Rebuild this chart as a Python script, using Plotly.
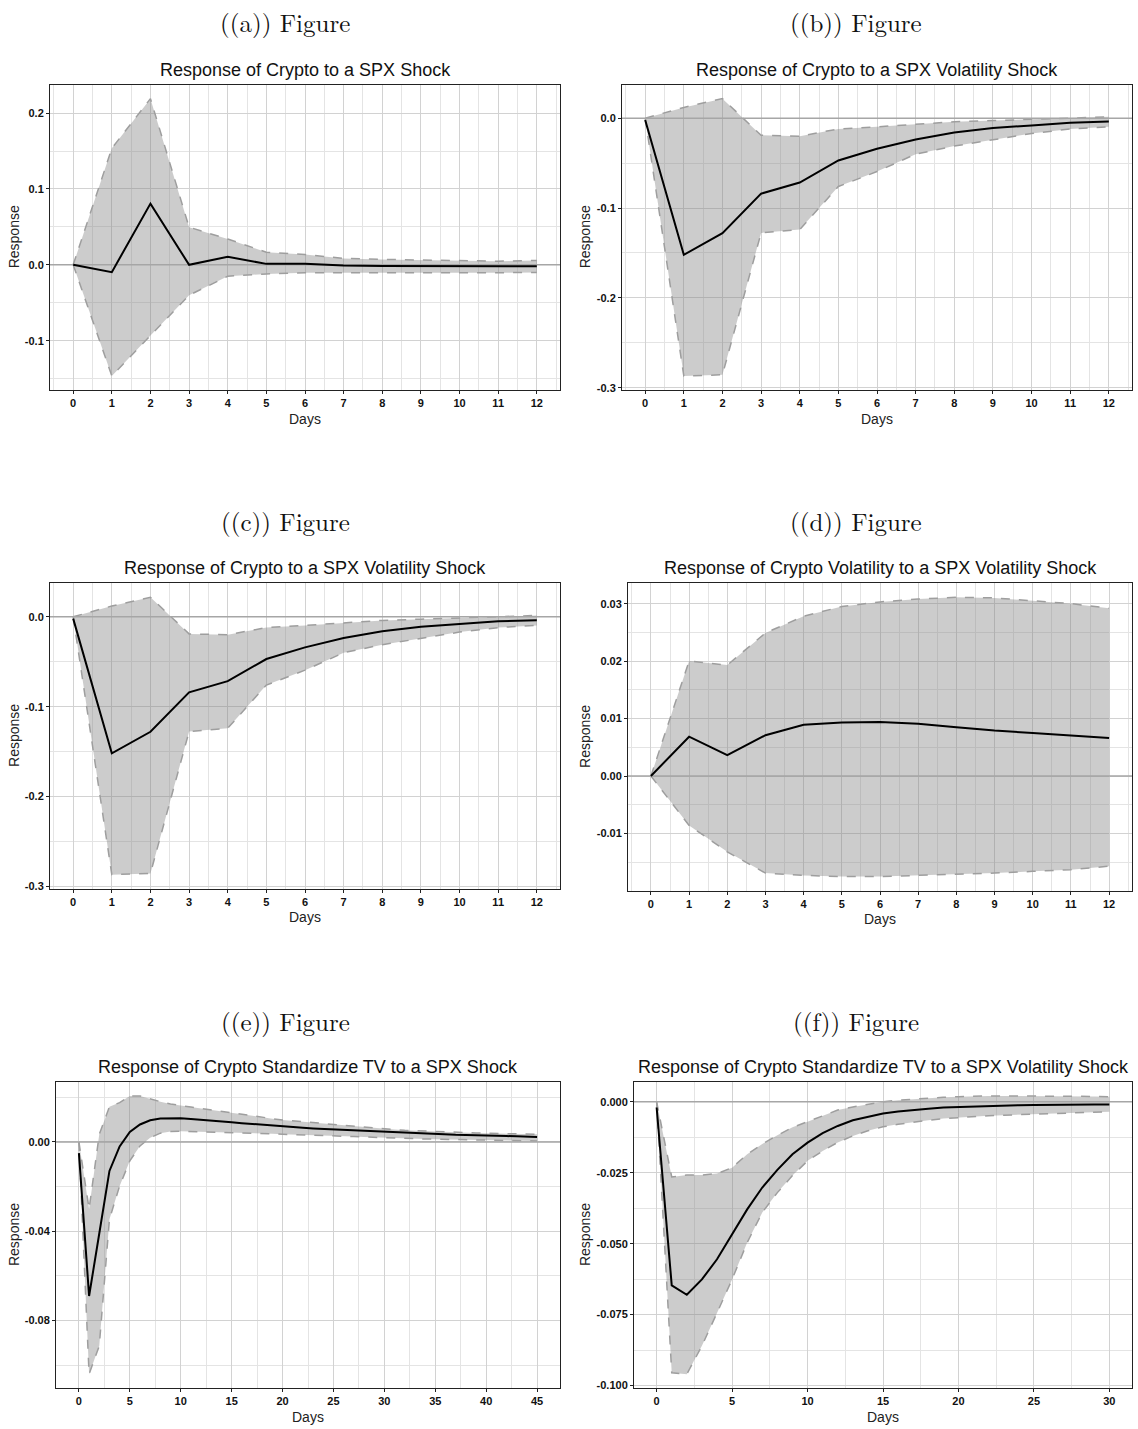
import plotly.graph_objects as go

# ---------------- impulse-response data ----------------
days_12 = list(range(13))
days_45 = list(range(46))
days_30 = list(range(31))

# (a) Crypto <- SPX shock
a_irf = [0.0, -0.0096, 0.0807, 0.0, 0.0105, 0.0013, 0.0013, -0.0008, -0.0015, -0.0018, -0.0019, -0.0019, -0.0020]
a_upper = [0.0, 0.1535, 0.219, 0.0496, 0.034, 0.0167, 0.0136, 0.0085, 0.0072, 0.0066, 0.0062, 0.0048, 0.0058]
a_lower = [0.0, -0.1465, -0.093, -0.040, -0.015, -0.012, -0.0105, -0.0102, -0.0102, -0.0102, -0.0103, -0.0104, -0.0100]

# (b) and (c) Crypto <- SPX volatility shock
b_irf = [-0.002, -0.152, -0.128, -0.084, -0.0716, -0.047, -0.034, -0.0236, -0.016, -0.011, -0.008, -0.005, -0.0037]
b_upper = [0.0, 0.012, 0.0218, -0.019, -0.020, -0.012, -0.0096, -0.0066, -0.004, -0.0026, -0.001, 0.0, 0.0015]
b_lower = [0.0, -0.287, -0.2856, -0.1277, -0.124, -0.076, -0.0594, -0.040, -0.031, -0.0236, -0.017, -0.012, -0.0096]

# (d) Crypto volatility <- SPX volatility shock
d_irf = [0.0, 0.00684, 0.00365, 0.0071, 0.0089, 0.00933, 0.0094, 0.0091, 0.0085, 0.0079, 0.0075, 0.0070, 0.0066]
d_upper = [0.0, 0.0200, 0.0193, 0.0249, 0.0278, 0.0295, 0.0303, 0.0308, 0.0311, 0.0310, 0.0305, 0.0300, 0.0292]
d_lower = [0.0, -0.0086, -0.0132, -0.0169, -0.0173, -0.0175, -0.0175, -0.0173, -0.0172, -0.0169, -0.0166, -0.0163, -0.0157]

# (e) Crypto standardized TV <- SPX shock
e_irf = [-0.005, -0.069, -0.041, -0.013, -0.002, 0.0045, 0.0078, 0.0097, 0.0105, 0.0107,
         0.0106, 0.0103, 0.0100, 0.0096, 0.0092, 0.0088, 0.0084, 0.0080, 0.0076, 0.0072,
         0.0068, 0.0066, 0.0063, 0.0060, 0.0058, 0.0055, 0.0053, 0.0050, 0.0048, 0.0046,
         0.0043, 0.0042, 0.0040, 0.0038, 0.0036, 0.0035, 0.0034, 0.0032, 0.0031, 0.0029,
         0.0028, 0.0027, 0.0026, 0.0025, 0.0023, 0.0022]
e_upper = [0.0, -0.030, 0.0034, 0.0157, 0.0176, 0.0206, 0.0206, 0.0192, 0.0180, 0.0170,
           0.0162, 0.0156, 0.0150, 0.0143, 0.0137, 0.0131, 0.0124, 0.0117, 0.0111, 0.0104,
           0.0098, 0.0094, 0.0089, 0.0085, 0.0080, 0.0076, 0.0072, 0.0068, 0.0064, 0.0060,
           0.0057, 0.0055, 0.0052, 0.0050, 0.0047, 0.0045, 0.0044, 0.0042, 0.0041, 0.0040,
           0.0039, 0.0038, 0.0037, 0.0036, 0.0035, 0.0034]
e_lower = [0.0, -0.104, -0.0913, -0.0346, -0.0197, -0.0085, -0.0018, 0.0019, 0.0039, 0.0046,
           0.0048, 0.0047, 0.0046, 0.0045, 0.0044, 0.0042, 0.0041, 0.0039, 0.0038, 0.0036,
           0.0034, 0.0033, 0.0031, 0.0030, 0.0028, 0.0027, 0.0025, 0.0024, 0.0022, 0.0020,
           0.0018, 0.0017, 0.0016, 0.0015, 0.0013, 0.0012, 0.0011, 0.0010, 0.0009, 0.0008,
           0.0007, 0.0006, 0.0006, 0.0005, 0.0005, 0.0004]

# (f) Crypto standardized TV <- SPX volatility shock
f_irf = [-0.002, -0.0647, -0.068, -0.0626, -0.0555, -0.0467, -0.0379, -0.0302, -0.024, -0.0185,
         -0.0144, -0.011, -0.0085, -0.0065, -0.0052, -0.0041, -0.0034, -0.0028, -0.0024, -0.0020,
         -0.0018, -0.0016, -0.0015, -0.0013, -0.0012, -0.0011, -0.0010, -0.0010, -0.0009, -0.0009,
         -0.0009]
f_upper = [0.0, -0.0265, -0.0258, -0.0258, -0.0253, -0.0232, -0.0185, -0.0149, -0.0118, -0.009,
           -0.007, -0.0049, -0.0029, -0.0018, -0.0008, 0.0, 0.0006, 0.0010, 0.0014, 0.0016,
           0.0018, 0.0020, 0.0021, 0.0021, 0.0021, 0.0021, 0.0020, 0.0020, 0.0019, 0.0019,
           0.0018]
f_lower = [0.0, -0.0955, -0.096, -0.086, -0.0744, -0.0626, -0.0496, -0.039, -0.032, -0.026,
           -0.0208, -0.0173, -0.0143, -0.012, -0.0102, -0.0088, -0.0079, -0.0071, -0.0065, -0.0059,
           -0.0055, -0.0052, -0.0049, -0.0047, -0.0045, -0.0044, -0.0042, -0.0040, -0.0038, -0.0036,
           -0.0035]

# ---------------- text and tick labels ----------------
captions = ["((a)) Figure", "((b)) Figure", "((c)) Figure", "((d)) Figure", "((e)) Figure", "((f)) Figure"]
titles = [
    "Response of Crypto to a SPX Shock",
    "Response of Crypto to a SPX Volatility Shock",
    "Response of Crypto to a SPX Volatility Shock",
    "Response of Crypto Volatility to a SPX Volatility Shock",
    "Response of Crypto Standardize TV to a SPX Shock",
    "Response of Crypto Standardize TV to a SPX Volatility Shock",
]
x_title = "Days"
y_title = "Response"

xt_12 = list(range(13))
xt_45 = [0, 5, 10, 15, 20, 25, 30, 35, 40, 45]
xt_30 = [0, 5, 10, 15, 20, 25, 30]

a_yticks = [-0.1, 0.0, 0.1, 0.2]
a_ylabels = ["-0.1", "0.0", "0.1", "0.2"]
b_yticks = [-0.3, -0.2, -0.1, 0.0]
b_ylabels = ["-0.3", "-0.2", "-0.1", "0.0"]
d_yticks = [-0.02, -0.01, 0.0, 0.01, 0.02, 0.03]
d_ylabels = ["-0.02", "-0.01", "0.00", "0.01", "0.02", "0.03"]
e_yticks = [-0.08, -0.04, 0.0]
e_ylabels = ["-0.08", "-0.04", "0.00"]
f_yticks = [-0.1, -0.075, -0.05, -0.025, 0.0]
f_ylabels = ["-0.100", "-0.075", "-0.050", "-0.025", "0.000"]

# ---------------- layout geometry (pixels) ----------------
W, H = 1138, 1429
panels = [
    dict(x=days_12, irf=a_irf, up=a_upper, lo=a_lower, xt=xt_12, yt=a_yticks, yl=a_ylabels,
         xm=0.5, ym=0.05, box=(50, 560, 85, 391), cap=285),
    dict(x=days_12, irf=b_irf, up=b_upper, lo=b_lower, xt=xt_12, yt=b_yticks, yl=b_ylabels,
         xm=0.5, ym=0.05, box=(622, 1132, 85, 391), cap=856),
    dict(x=days_12, irf=b_irf, up=b_upper, lo=b_lower, xt=xt_12, yt=b_yticks, yl=b_ylabels,
         xm=0.5, ym=0.05, box=(50, 560, 585, 891), cap=285),
    dict(x=days_12, irf=d_irf, up=d_upper, lo=d_lower, xt=xt_12, yt=d_yticks, yl=d_ylabels,
         xm=0.5, ym=0.005, box=(628, 1132, 585, 893), cap=856),
    dict(x=days_45, irf=e_irf, up=e_upper, lo=e_lower, xt=xt_45, yt=e_yticks, yl=e_ylabels,
         xm=2.5, ym=0.02, box=(56, 560, 1085, 1392), cap=285),
    dict(x=days_30, irf=f_irf, up=f_upper, lo=f_lower, xt=xt_30, yt=f_yticks, yl=f_ylabels,
         xm=2.5, ym=0.0125, box=(634, 1132, 1085, 1392), cap=856),
]
caption_y = [22, 22, 522, 522, 1023, 1023]

BAND_FILL = "rgba(128,128,128,0.40)"
BAND_EDGE = "#9E9E9E"
ZERO_LINE = "#A6A6A6"
FRAME = "#222222"
TICK_FONT = dict(family="Liberation Sans Narrow, Liberation Sans, Arial", size=11, color="#111111", weight="bold")
LABEL_FONT = dict(family="Liberation Sans, Arial", size=14, color="#222222")
TITLE_FONT = dict(family="Liberation Sans, Arial", size=18, color="#111111")
CAPTION_FONT = dict(family="Latin Modern Roman, DejaVu Serif, Liberation Serif, serif", size=25, color="#111111")

fig = go.Figure()
annotations = []

for i, p in enumerate(panels, start=1):
    xa = "x" if i == 1 else f"x{i}"
    ya = "y" if i == 1 else f"y{i}"
    x0, x1, y0, y1 = p["box"]

    # ggplot-style 5% expansion around the data
    n = max(p["x"])
    xr = [-0.05 * n, 1.05 * n]
    ymin = min(p["lo"] + p["irf"])
    ymax = max(p["up"] + p["irf"])
    pad = 0.05 * (ymax - ymin)
    yr = [ymin - pad, ymax + pad]

    # confidence band: lower edge, then upper edge filled down to it
    fig.add_trace(go.Scatter(x=p["x"], y=p["lo"], mode="lines", xaxis=xa, yaxis=ya,
                             line=dict(color=BAND_EDGE, width=1.5, dash="dash"), showlegend=False))
    fig.add_trace(go.Scatter(x=p["x"], y=p["up"], mode="lines", xaxis=xa, yaxis=ya,
                             fill="tonexty", fillcolor=BAND_FILL,
                             line=dict(color=BAND_EDGE, width=1.5, dash="dash"), showlegend=False))
    # zero reference line across the panel
    fig.add_trace(go.Scatter(x=xr, y=[0, 0], mode="lines", xaxis=xa, yaxis=ya,
                             line=dict(color=ZERO_LINE, width=1.5), showlegend=False))
    # impulse response
    fig.add_trace(go.Scatter(x=p["x"], y=p["irf"], mode="lines", xaxis=xa, yaxis=ya,
                             line=dict(color="#000000", width=2), showlegend=False))

    axis_common = dict(showline=True, mirror=True, linecolor=FRAME, linewidth=1,
                       ticks="outside", ticklen=3, tickcolor=FRAME, tickwidth=1,
                       showgrid=True, gridcolor="#D2D2D2", gridwidth=1,
                       zeroline=False, tickfont=TICK_FONT)
    fig.layout[("xaxis" if i == 1 else f"xaxis{i}")] = dict(
        domain=[x0 / W, x1 / W], anchor=ya, range=xr,
        tickmode="array", tickvals=p["xt"], ticktext=[str(v) for v in p["xt"]],
        minor=dict(tickmode="linear", tick0=0, dtick=p["xm"], showgrid=True,
                   gridcolor="#E4E4E4", gridwidth=1, ticks=""),
        **axis_common)
    fig.layout[("yaxis" if i == 1 else f"yaxis{i}")] = dict(
        domain=[1 - y1 / H, 1 - y0 / H], anchor=xa, range=yr,
        tickmode="array", tickvals=p["yt"], ticktext=p["yl"],
        minor=dict(tickmode="linear", tick0=0, dtick=p["ym"], showgrid=True,
                   gridcolor="#E4E4E4", gridwidth=1, ticks=""),
        **axis_common)

    cx = (x0 + x1) / 2 / W
    annotations.append(dict(text=titles[i - 1], x=cx, y=1 - (y0 - 15) / H, xref="paper", yref="paper",
                            xanchor="center", yanchor="middle", showarrow=False, font=TITLE_FONT))
    annotations.append(dict(text=x_title, x=cx, y=1 - (y1 + 29) / H, xref="paper", yref="paper",
                            xanchor="center", yanchor="middle", showarrow=False, font=LABEL_FONT))
    annotations.append(dict(text=y_title, x=(14 if x0 < 300 else 585) / W, y=1 - (y0 + y1) / 2 / H,
                            xref="paper", yref="paper", xanchor="center", yanchor="middle",
                            textangle=-90, showarrow=False, font=LABEL_FONT))
    annotations.append(dict(text=captions[i - 1], x=p["cap"] / W, y=1 - caption_y[i - 1] / H,
                            xref="paper", yref="paper", xanchor="center", yanchor="middle",
                            showarrow=False, font=CAPTION_FONT))

fig.update_layout(
    width=W, height=H,
    margin=dict(l=0, r=0, t=0, b=0),
    paper_bgcolor="white", plot_bgcolor="white",
    annotations=annotations,
    showlegend=False,
)

fig.write_html("out.html")
